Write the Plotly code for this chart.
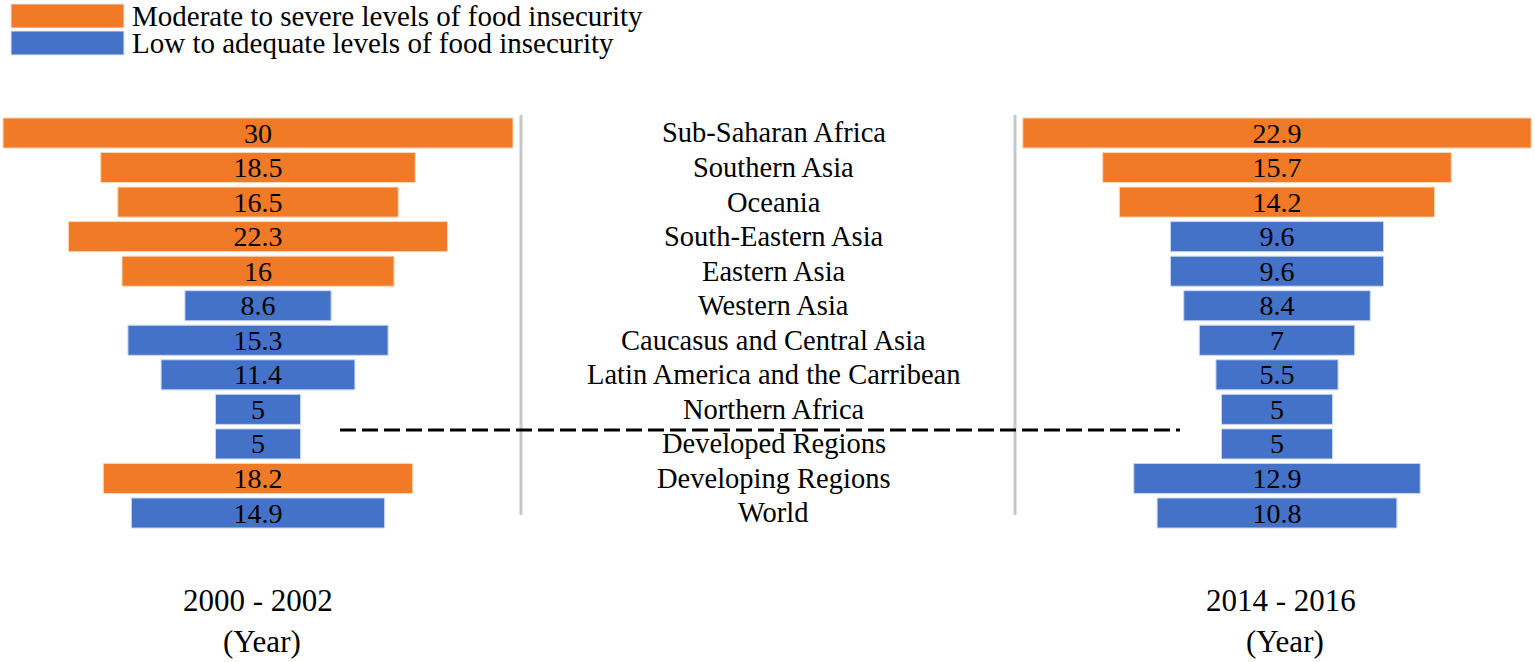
import plotly.graph_objects as go

W, H = 1535, 662

regions = ["Sub-Saharan Africa", "Southern Asia", "Oceania", "South-Eastern Asia",
           "Eastern Asia", "Western Asia", "Caucasus and Central Asia",
           "Latin America and the Carribean", "Northern Africa", "Developed Regions",
           "Developing Regions", "World"]
vals_2000 = [30, 18.5, 16.5, 22.3, 16, 8.6, 15.3, 11.4, 5, 5, 18.2, 14.9]
level_2000 = ["mod", "mod", "mod", "mod", "mod", "low", "low", "low", "low", "low", "mod", "low"]
vals_2014 = [22.9, 15.7, 14.2, 9.6, 9.6, 8.4, 7, 5.5, 5, 5, 12.9, 10.8]
level_2014 = ["mod", "mod", "mod", "low", "low", "low", "low", "low", "low", "low", "low", "low"]

legend_names = {"mod": "Moderate to severe levels of food insecurity",
                "low": "Low to adequate levels of food insecurity"}
colors = {"mod": "#F07A25", "low": "#4472C8"}
FONT = "Liberation Serif"


def px(x):
    return x / W


def py(y):
    return 1 - y / H


fig = go.Figure()

for vals, levels, xa in [(vals_2000, level_2000, "x"), (vals_2014, level_2014, "x2")]:
    for lvl in ["mod", "low"]:
        ys = [r for r, l in zip(regions, levels) if l == lvl]
        xs = [v for v, l in zip(vals, levels) if l == lvl]
        fig.add_trace(go.Bar(
            y=ys, x=xs, base=[-v / 2 for v in xs], orientation="h",
            text=[f"{v:g}" for v in xs], textposition="inside",
            insidetextanchor="middle", textangle=0, constraintext="none",
            textfont=dict(family=FONT, size=28, color="black"),
            marker=dict(color=colors[lvl], line=dict(color="#FBD7B8" if lvl == "mod" else "#C9D6EE", width=1)),
            xaxis=xa, yaxis="y", showlegend=False, hoverinfo="skip"))

# left panel: centre 258px, 17 px per unit; right panel: centre 1277px, 22.2 px per unit
c1, s1, c2, s2 = 258, 17.0, 1277, 22.2
row_top, row_bot = 133, 513
step = (row_bot - row_top) / 11

fig.update_layout(
    width=W, height=H, margin=dict(l=0, r=0, t=0, b=0),
    paper_bgcolor="white", plot_bgcolor="white", bargap=0.13, barmode="overlay",
    xaxis=dict(domain=[0, px(520)], range=[(0 - c1) / s1, (520 - c1) / s1],
               visible=False, fixedrange=True),
    xaxis2=dict(domain=[px(1015), 1], range=[(1015 - c2) / s2, (W - c2) / s2],
                visible=False, anchor="y", fixedrange=True),
    yaxis=dict(type="category", categoryorder="array", categoryarray=regions,
               domain=[py(row_bot + step / 2), py(row_top - step / 2)],
               range=[11.5, -0.5], visible=False, fixedrange=True),
)

# region names in the middle
for r in regions:
    fig.add_annotation(x=px(774), y=r, xref="paper", yref="y", text=r, showarrow=False,
                       xanchor="center", yanchor="middle",
                       font=dict(family=FONT, size=28.5, color="black"))

# separators
for xp in [521, 1015]:
    fig.add_shape(type="line", xref="paper", yref="paper", x0=px(xp), x1=px(xp),
                  y0=py(515), y1=py(115), line=dict(color="#C8C8C8", width=3))
fig.add_shape(type="line", xref="paper", yref="paper", x0=px(340), x1=px(1180),
              y0=py(430), y1=py(430), line=dict(color="black", width=3, dash="16px,6px"))

# custom legend
for i, lvl in enumerate(["mod", "low"]):
    y0 = 4 + i * 27
    fig.add_shape(type="rect", xref="paper", yref="paper", x0=px(11), x1=px(124),
                  y0=py(y0 + 24), y1=py(y0), fillcolor=colors[lvl],
                  line=dict(color="#E6E6E6", width=1))
    fig.add_annotation(x=px(130), y=py(y0 + 12), xref="paper", yref="paper",
                       text=legend_names[lvl], showarrow=False,
                       xanchor="left", yanchor="middle",
                       font=dict(family=FONT, size=29, color="black"))

# period labels
for xc, lab in [(258, "2000 - 2002"), (1281, "2014 - 2016")]:
    fig.add_annotation(x=px(xc), y=py(600), xref="paper", yref="paper", text=lab,
                       showarrow=False, xanchor="center", yanchor="middle",
                       font=dict(family=FONT, size=31, color="black"))
    fig.add_annotation(x=px(xc + 4), y=py(641), xref="paper", yref="paper", text="(Year)",
                       showarrow=False, xanchor="center", yanchor="middle",
                       font=dict(family=FONT, size=31, color="black"))

fig.write_html("out.html", config={"displayModeBar": False},
               post_script="document.body.style.margin='0';")
